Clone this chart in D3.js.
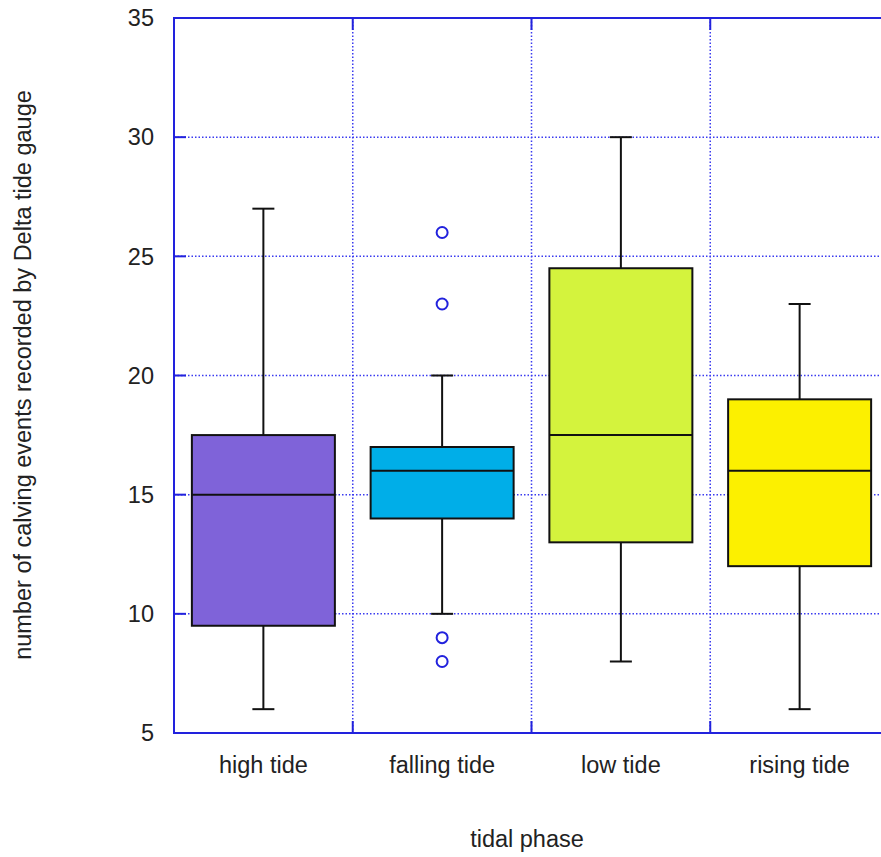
<!DOCTYPE html>
<html>
<head>
<meta charset="utf-8">
<script src="https://cdn.jsdelivr.net/npm/d3@7"></script>
<style>
  html, body { margin: 0; padding: 0; background: #fff; overflow: hidden; }
  svg { display: block; font-family: 'Liberation Sans', Arial, sans-serif; }
</style>
</head>
<body>
<svg id="chart" width="881" height="857"></svg>
<script>
// ------------------
// Data
// ------------------
const categories = ['high tide', 'falling tide', 'low tide', 'rising tide']
const whiskerLow = [6, 10, 8, 6]
const q1 = [9.5, 14, 13, 12]
const medians = [15, 16, 17.5, 16]
const q3 = [17.5, 17, 24.5, 19]
const whiskerHigh = [27, 20, 30, 23]
const outliers = [[], [26, 23, 9, 8], [], []]
const colors = ['#7f63d9', '#00aee8', '#d4f33d', '#fcf000']
const yTicks = [5, 10, 15, 20, 25, 30, 35]

const svg = d3.select('#chart')
const margin = { top: 18, left: 174, bottom: 733, right: 889 }
const axisColor = '#2222dd'
const fontSize = 23.5

const x = d3.scaleBand()
  .domain(categories)
  .range([margin.left, margin.right])
  .padding(0)

const y = d3.scaleLinear()
  .domain([5, 35])
  .range([margin.bottom, margin.top])

// ------------------
// Grid
// ------------------
const grid = svg.append('g')
grid.selectAll('.hgrid')
  .data(yTicks.slice(1, -1))
  .enter()
  .append('line')
  .attr('x1', margin.left).attr('x2', margin.right)
  .attr('y1', d => y(d)).attr('y2', d => y(d))
  .attr('stroke', '#3b3bf0')
  .attr('stroke-width', 1.5)
  .attr('stroke-dasharray', '1.5,2')

const bounds = categories.slice(1).map(c => x(c))
grid.selectAll('.vgrid')
  .data(bounds)
  .enter()
  .append('line')
  .attr('x1', d => d).attr('x2', d => d)
  .attr('y1', margin.top).attr('y2', margin.bottom)
  .attr('stroke', '#3b3bf0')
  .attr('stroke-width', 1.5)
  .attr('stroke-dasharray', '1.5,2')

// tick marks inside the frame
grid.selectAll('.ytick')
  .data(yTicks)
  .enter()
  .append('line')
  .attr('x1', margin.left).attr('x2', margin.left + 12)
  .attr('y1', d => y(d)).attr('y2', d => y(d))
  .attr('stroke', axisColor).attr('stroke-width', 2)

bounds.forEach(b => {
  grid.append('line')
    .attr('x1', b).attr('x2', b)
    .attr('y1', margin.top).attr('y2', margin.top + 12)
    .attr('stroke', axisColor).attr('stroke-width', 2)
  grid.append('line')
    .attr('x1', b).attr('x2', b)
    .attr('y1', margin.bottom - 12).attr('y2', margin.bottom)
    .attr('stroke', axisColor).attr('stroke-width', 2)
})

// ------------------
// Boxes
// ------------------
const boxW = x.bandwidth() * 0.8
const capW = 22

const boxes = svg.selectAll('.box')
  .data(categories.map((c, i) => ({
    c, lo: whiskerLow[i], q1: q1[i], med: medians[i], q3: q3[i], hi: whiskerHigh[i],
    out: outliers[i], color: colors[i]
  })))
  .enter()
  .append('g')
  .attr('transform', d => `translate(${x(d.c) + x.bandwidth() / 2},0)`)

boxes.append('line')
  .attr('x1', 0).attr('x2', 0)
  .attr('y1', d => y(d.hi)).attr('y2', d => y(d.q3))
  .attr('stroke', '#111').attr('stroke-width', 2)
boxes.append('line')
  .attr('x1', 0).attr('x2', 0)
  .attr('y1', d => y(d.q1)).attr('y2', d => y(d.lo))
  .attr('stroke', '#111').attr('stroke-width', 2)
boxes.append('line')
  .attr('x1', -capW / 2).attr('x2', capW / 2)
  .attr('y1', d => y(d.hi)).attr('y2', d => y(d.hi))
  .attr('stroke', '#111').attr('stroke-width', 2)
boxes.append('line')
  .attr('x1', -capW / 2).attr('x2', capW / 2)
  .attr('y1', d => y(d.lo)).attr('y2', d => y(d.lo))
  .attr('stroke', '#111').attr('stroke-width', 2)

boxes.append('rect')
  .attr('x', -boxW / 2)
  .attr('width', boxW)
  .attr('y', d => y(d.q3))
  .attr('height', d => y(d.q1) - y(d.q3))
  .attr('fill', d => d.color)
  .attr('stroke', '#111')
  .attr('stroke-width', 2)

boxes.append('line')
  .attr('x1', -boxW / 2).attr('x2', boxW / 2)
  .attr('y1', d => y(d.med)).attr('y2', d => y(d.med))
  .attr('stroke', '#111').attr('stroke-width', 2)

boxes.selectAll('.out')
  .data(d => d.out)
  .enter()
  .append('circle')
  .attr('cx', 0)
  .attr('cy', d => y(d))
  .attr('r', 5.5)
  .attr('fill', 'none')
  .attr('stroke', '#2222dd')
  .attr('stroke-width', 2)

// ------------------
// Frame
// ------------------
svg.append('rect')
  .attr('x', margin.left).attr('y', margin.top)
  .attr('width', margin.right - margin.left)
  .attr('height', margin.bottom - margin.top)
  .attr('fill', 'none')
  .attr('stroke', axisColor)
  .attr('stroke-width', 2)

// ------------------
// Labels
// ------------------
svg.selectAll('.ylab')
  .data(yTicks)
  .enter()
  .append('text')
  .attr('x', 154)
  .attr('y', d => y(d))
  .attr('dy', '0.35em')
  .attr('text-anchor', 'end')
  .attr('font-size', fontSize)
  .attr('fill', '#222')
  .text(d => d)

svg.selectAll('.xlab')
  .data(categories)
  .enter()
  .append('text')
  .attr('x', d => x(d) + x.bandwidth() / 2)
  .attr('y', 773)
  .attr('text-anchor', 'middle')
  .attr('font-size', fontSize)
  .attr('fill', '#222')
  .text(d => d)

svg.append('text')
  .attr('x', 527)
  .attr('y', 847)
  .attr('text-anchor', 'middle')
  .attr('font-size', fontSize)
  .attr('fill', '#222')
  .text('tidal phase')

svg.append('text')
  .attr('transform', 'translate(31,375) rotate(-90)')
  .attr('text-anchor', 'middle')
  .attr('font-size', fontSize)
  .attr('fill', '#222')
  .text('number of calving events recorded by Delta tide gauge')
</script>
</body>
</html>
